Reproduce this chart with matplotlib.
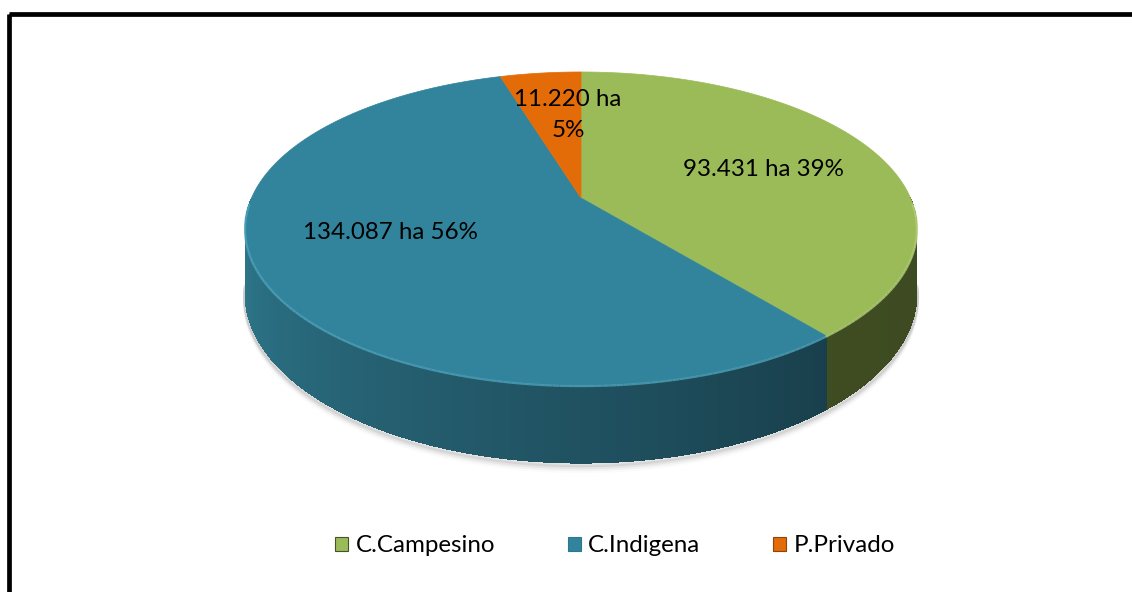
import numpy as np
import matplotlib
matplotlib.use("Agg")
import matplotlib.pyplot as plt
from matplotlib.patches import Polygon, Rectangle, Patch
from matplotlib.collections import PolyCollection

# ---- data ----
categories = ["C.Campesino", "C.Indigena", "P.Privado"]
hectares = [93431, 134087, 11220]
value_labels = ["93.431 ha", "134.087 ha", "11.220 ha"]

# ---- style ----
top_colors = ["#9BBB59", "#31849B", "#E36C09"]
side_left = [(0.27, 0.33, 0.15), (0.18, 0.47, 0.55), (0.55, 0.27, 0.04)]
side_right = [(0.24, 0.29, 0.13), (0.07, 0.17, 0.21), (0.45, 0.22, 0.03)]
rim_colors = ["#B5D07A", "#4FA3BC", "#F08A3A"]
label_nudge = [(3, 1), (-6, -10), (13, -3)]
two_line = [False, False, True]
FONT = "Lato"
FS = 17.4

plt.rcParams['font.family'] = [FONT, 'DejaVu Sans']

W, H = 1132, 592
fig = plt.figure(figsize=(W / 100, H / 100), dpi=100)
ax = fig.add_axes([0, 0, 1, 1])
ax.set_xlim(0, W)
ax.set_ylim(H, 0)
ax.axis('off')

# perspective disc projection (pixel space)
CX, CY = 581.0, 198.0
A, B, K = 329.5, 150.6, 0.195
DEPTH = 62.8


def proj(r, th, z=0.0):
    u = r * np.cos(th)
    v = r * np.sin(th)
    d = 1 + K * v
    return CX + A * u / d, CY - B * v / d + z * DEPTH / d


vals = np.array(hectares, dtype=float)
fracs = vals / vals.sum()
starts = []
ends = []
cum = 0.0
for f in fracs:
    s = 90.0 - 360.0 * cum
    e = s - 360.0 * f
    starts.append(s)
    ends.append(e)
    cum += f


def slice_of(deg):
    for i in range(len(fracs)):
        lo, hi = ends[i], starts[i]
        d = (deg - lo) % 360.0
        if d <= hi - lo:
            return i
    return 0


# shadow under pie
for off, al in [(2, 0.22), (4, 0.14), (6, 0.07), (8, 0.03)]:
    th = np.radians(np.linspace(188, 352, 200))
    x, y = proj(1.0, th, 1.0)
    ax.plot(x, y + off, color="#808080", lw=3, alpha=al, solid_capstyle='round', zorder=1)

# side strips
step = 0.5
degs = np.arange(180.0, 360.0, step)
order = np.argsort(-np.sin(np.radians(degs + step / 2)))
polys, cols = [], []
for idx in order:
    d0 = degs[idx]
    d1 = d0 + step
    dm = d0 + step / 2
    i = slice_of(dm)
    t0, t1 = np.radians(d0), np.radians(d1 + 0.3)
    x0, y0 = proj(1.0, t0)
    x1, y1 = proj(1.0, t1)
    x2, y2 = proj(1.0, t1, 1.0)
    x3, y3 = proj(1.0, t0, 1.0)
    polys.append([(x0, y0), (x1, y1), (x2, y2), (x3, y3)])
    tt = np.clip((dm - 190.0) / (350.0 - 190.0), 0, 1)
    cl = np.array(side_left[i]) * (1 - tt) + np.array(side_right[i]) * tt
    cols.append(cl)
pc = PolyCollection(polys, facecolors=cols, edgecolors='none', linewidths=0,
                    antialiaseds=False, zorder=2)
ax.add_collection(pc)
# smooth outline for the lower edge of the side
th = np.radians(np.linspace(182, 358, 300))
for d0, d1 in [(182, 309.1), (309.1, 358)]:
    pass
bx, by = proj(1.0, np.radians(np.linspace(186, 354, 300)), 1.0)

# top faces
for i in range(len(fracs)):
    th = np.radians(np.linspace(ends[i], starts[i], 200))
    x, y = proj(1.0, th)
    pts = [(CX, CY)] + list(zip(x, y))
    ax.add_patch(Polygon(pts, closed=True, facecolor=top_colors[i],
                         edgecolor=top_colors[i], lw=0.5, zorder=3))

# rim highlight on front edge
for d in np.arange(182.0, 358.0, 1.0):
    i = slice_of(d + 0.5)
    th = np.radians(np.array([d, d + 1.0]))
    x, y = proj(1.0, th)
    ax.plot(x, y + 1.0, color=rim_colors[i], lw=1.6, alpha=0.8, zorder=4,
            solid_capstyle='butt')

# data labels
pct = np.round(fracs * 100).astype(int)
for i in range(len(fracs)):
    mid = np.radians((starts[i] + ends[i]) / 2)
    x, y = proj(0.6, mid)
    sep = "\n" if two_line[i] else " "
    ax.text(x + label_nudge[i][0], y + label_nudge[i][1],
            f"{value_labels[i]}{sep}{pct[i]}%", ha='center', va='center',
            fontsize=FS, color='black', linespacing=1.57, zorder=6)

# legend
handles = [Patch(facecolor=top_colors[i], edgecolor=side_left[i], lw=0.8, label=categories[i])
           for i in range(len(categories))]
leg = ax.legend(handles=handles, ncol=3, loc='center', bbox_to_anchor=(615, 546),
                bbox_transform=ax.transData, frameon=False, fontsize=FS,
                handlelength=0.55, handleheight=0.55, handletextpad=0.3,
                columnspacing=3.0, borderaxespad=0)

# outer frame
ax.add_patch(Rectangle((8.5, 13.5), 1300, 800, fill=False, edgecolor='black',
                       lw=3.4, zorder=10, clip_on=False))

fig.savefig("out.png", dpi=100)
